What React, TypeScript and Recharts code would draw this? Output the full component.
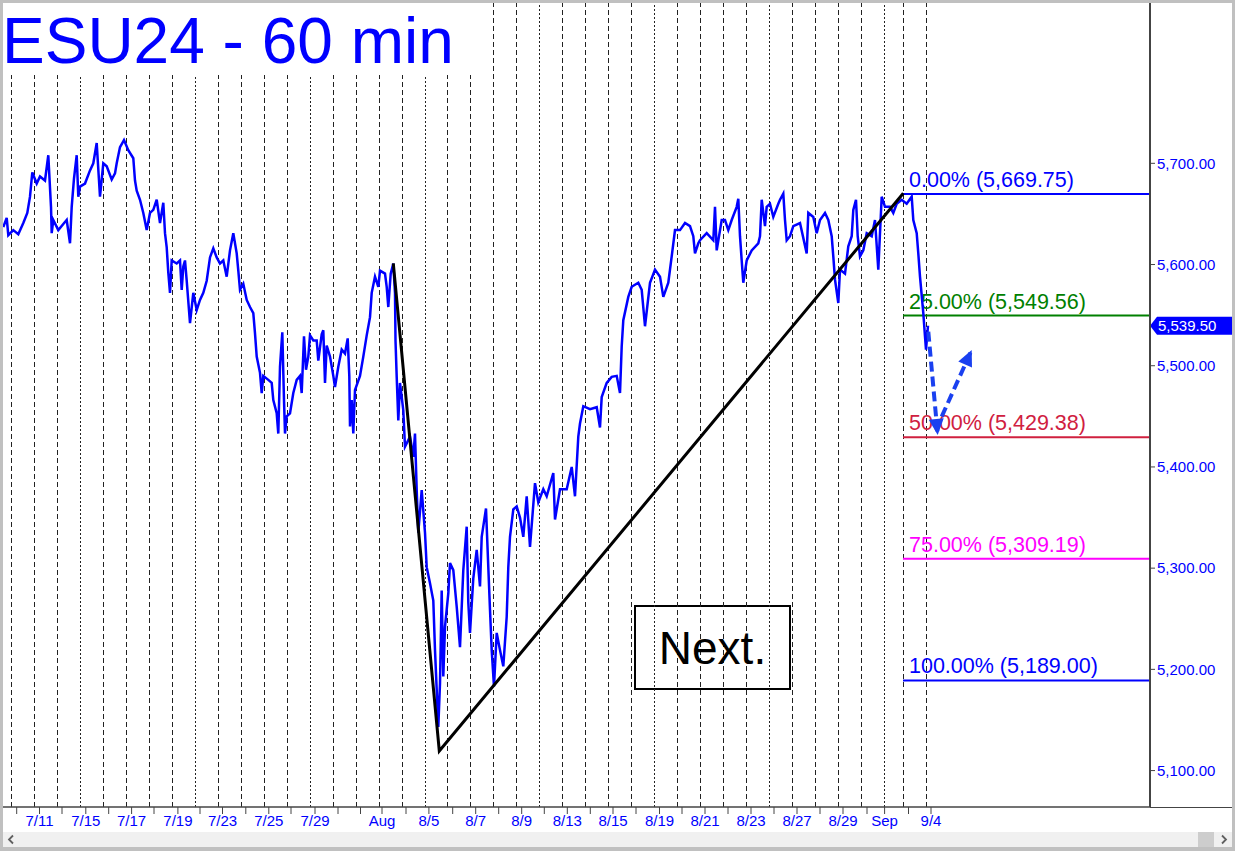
import React from "react";
import {
  ComposedChart,
  Line,
  XAxis,
  YAxis,
  ReferenceLine,
  ReferenceArea,
} from "recharts";

// hourly bar index (1 bar = 1 px) and price
const priceBars = [
  0.3, 3.7, 5.3, 10.3, 15.3, 20.3, 24.3, 27, 29.3, 33.7,
  37, 42, 45.3, 48, 48.7, 50.3, 55.3, 60.3, 63.7, 67,
  68.7, 71, 73.7, 75.3, 77, 82, 87, 90.3, 93.7, 97,
  100.3, 103.7, 108.7, 112, 113.7, 117, 121, 125.3, 130.3, 132,
  133.7, 137, 140.3, 143.7, 147, 150.3, 153.7, 157, 160.3, 162,
  163.7, 165.3, 167, 168.7, 173.7, 177, 178.7, 180.3, 182, 183.7,
  187, 190.3, 193.7, 197, 200.3, 203.7, 207, 210.3, 213.7, 217,
  220.3, 223.7, 227, 230.3, 233.7, 235.3, 237, 240.3, 243.7, 247,
  250.3, 252, 253.7, 257, 258.7, 260.3, 265.3, 268.7, 270.3, 273.7,
  275.3, 277, 279.3, 281, 282, 283.7, 287, 290.3, 293.7, 297,
  298.7, 301, 303, 305.3, 307, 310.3, 313.7, 315.3, 318.7, 320.3,
  322, 323.7, 327, 330.3, 332, 335.3, 338.7, 342, 344.7, 346.3,
  347, 348.7, 350.3, 352, 357, 360.3, 363.7, 367, 368.7, 372,
  375.3, 377, 382, 383.7, 385.3, 387.7, 390.3,
  392, 392.5, 393.7, 395.3, 397, 400.3, 402, 407, 410.3, 412,
  413.7, 415.3, 418.7, 422, 423.7, 427, 430.3, 432, 435.3, 437,
  438.7, 440.3, 442, 445.3, 447, 450.3, 453.7, 457, 460.3, 463.7,
  465.3, 467, 470.3, 473.7, 477, 478.7, 483, 485.3, 487, 488.7,
  491, 493.7, 497, 500.3, 503.7, 505.3, 507, 510.3, 513.7, 517,
  520.3, 523.7, 527, 532, 535.3, 540.3, 543.7, 550.3, 552, 557,
  563.7, 568.7, 572, 575.3, 577, 580.3, 587, 593.7, 597, 598.7,
  603.7, 608.7, 613.7, 617, 618.7, 620.3, 625.3, 628.7, 635.3, 638.7,
  642, 647, 652, 657, 660.3, 665.3, 668.7, 672,
  677, 682, 687, 690.3, 692, 695.3, 697, 703.7, 710.3, 712,
  713.7, 718.7, 722, 725.3, 728.7, 733.7, 735.3, 737, 738.7, 740.3,
  743.7, 748.7, 755.3, 757, 758.7, 762, 763.7, 767, 770.3, 775.3,
  777, 780.3, 782, 783.7, 787, 790.3, 797, 803.7, 805.3, 810.3,
  813.7, 817, 822, 825.3, 828.7, 830.3, 832, 835.3, 837, 842,
  845.3, 848.7, 850.3, 853, 854.7, 857, 860.3, 863.7, 868.7, 872,
  875.3, 878.7, 882, 887, 890.3, 893.7, 898.7, 903.7, 908.7, 910.3,
  913.7, 915.3, 917, 920.3, 922, 923, 925,
];

const priceValues = [
  5637, 5646, 5629, 5634, 5630, 5641, 5651, 5667, 5691, 5680,
  5687, 5683, 5708, 5657, 5631, 5644, 5634, 5640, 5644, 5621,
  5657, 5685, 5708, 5667, 5677, 5680, 5693, 5700, 5720, 5667,
  5700, 5697, 5684, 5690, 5700, 5716, 5723, 5713, 5705, 5683,
  5673, 5664, 5651, 5634, 5651, 5654, 5664, 5641, 5661, 5631,
  5617, 5592, 5572, 5604, 5601, 5604, 5575, 5598, 5604, 5584,
  5542, 5572, 5555, 5565, 5572, 5584, 5607, 5616, 5607, 5601,
  5604, 5588, 5614, 5631, 5611, 5594, 5575, 5581, 5565, 5558,
  5552, 5532, 5509, 5493, 5473, 5490, 5486, 5483, 5466, 5453,
  5433, 5499, 5533, 5466, 5433, 5450, 5453, 5473, 5486, 5490,
  5473, 5529, 5496, 5509, 5530, 5525, 5525, 5505, 5531, 5535,
  5483, 5520, 5509, 5490, 5479, 5499, 5516, 5512, 5527, 5490,
  5440, 5466, 5433, 5476, 5490, 5509, 5530, 5548, 5572, 5588,
  5578, 5594, 5591, 5578, 5558, 5591, 5601,
  5572, 5525, 5489, 5446, 5483, 5456, 5420, 5430, 5410, 5433,
  5377, 5335, 5377, 5335, 5301, 5285, 5268, 5219, 5143, 5186,
  5278, 5193, 5242, 5275, 5305, 5298, 5262, 5222, 5298, 5341,
  5266, 5236, 5290, 5318, 5282, 5331, 5359, 5301, 5259, 5219,
  5183, 5236, 5219, 5203, 5252, 5301, 5331, 5358, 5361, 5350,
  5331, 5371, 5321, 5384, 5365, 5378, 5371, 5394, 5348, 5378,
  5378, 5400, 5371, 5430, 5443, 5460, 5457, 5459, 5439, 5469,
  5483, 5489, 5490, 5473, 5519, 5545, 5568, 5578, 5582, 5575,
  5539, 5582, 5595, 5588, 5568, 5582, 5608, 5634,
  5634, 5641, 5638, 5628, 5611, 5621, 5624, 5631, 5624, 5657,
  5614, 5644, 5644, 5634, 5644, 5657, 5665, 5628, 5604, 5582,
  5604, 5614, 5621, 5628, 5664, 5638, 5657, 5660, 5647, 5660,
  5664, 5670, 5644, 5624, 5628, 5638, 5641, 5611, 5651, 5647,
  5631, 5644, 5651, 5644, 5628, 5608, 5585, 5562, 5595, 5591,
  5618, 5628, 5654, 5664, 5628, 5608, 5614, 5631, 5628, 5644,
  5595, 5667, 5657, 5657, 5651, 5660, 5664, 5660, 5667, 5644,
  5631, 5611, 5588, 5552, 5529, 5516, 5539.5,
];

const trendBars = [390.3, 436.3, 900.3];
const trendValues = [5601.2, 5119.4, 5670.5];

const arrowDownBars = [925.3, 934.7];
const arrowDownValues = [5533.6, 5431.6];
const arrowUpBars = [938.7, 968.7];
const arrowUpValues = [5449.7, 5515.6];

const fibLevels = [5669.75, 5549.56, 5429.38, 5309.19, 5189.0];
const fibNames = ["0.00%", "25.00%", "50.00%", "75.00%", "100.00%"];
const fibColors = ["#0000ff", "#008000", "#d0203f", "#ff00ff", "#0000ff"];
const fibStart = 900;

const lastPrice = 5539.5;

const yTicks = [5100, 5200, 5300, 5400, 5500, 5600, 5700];

const dayTicks = [
  13.7, 36.5, 59, 82.8, 105.7, 128.6, 151, 174.9, 197, 219.5,
  242.8, 265.8, 288, 312, 335, 357.5, 379, 403, 425.9, 449.7,
  472.7, 495.7, 518.7, 541.3, 564.3, 587.3, 610, 633, 656.5, 679,
  702, 725, 748, 771, 794, 817, 840, 864, 881.6, 905.5, 928,
];
const dayLabels = [
  "", "7/11", "", "7/15", "", "7/17", "", "7/19", "", "7/23",
  "", "7/25", "", "7/29", "", "", "Aug", "", "8/5", "",
  "8/7", "", "8/9", "", "8/13", "", "8/15", "", "8/19", "",
  "8/21", "", "8/23", "", "8/27", "", "8/29", "", "Sep", "", "9/4",
];

const sessionLines = [
  8.5, 31.5, 54.5, 77.5, 100.5, 123.5, 146.5, 169.5, 192.5, 215.5,
  238.5, 261.5, 284.5, 307.5, 330.5, 353.5, 376.5, 399.5, 422.5, 444.5,
  467.5, 490.5, 513.5, 536.5, 559.5, 582.5, 605.5, 628.5, 651.5, 674.5,
  697.5, 720.5, 743.5, 766.5, 789.5, 812.5, 835.5, 858.5, 881.5, 900.5, 923.5,
];
const weekStartLines = [77.5, 192.5, 307.5, 422.5, 536.5, 651.5, 766.5, 881.5];

const FONT = "Arial, 'Liberation Sans', sans-serif";
const ARROW = "#1a40f0";

const fmt = (v: number) =>
  v.toLocaleString("en-US", { minimumFractionDigits: 2, maximumFractionDigits: 2 });

const arrowHead = (angle: number) => (props: any) => {
  const { cx, cy, index } = props;
  if (index !== 1 || cx == null) return <g key={`n${index}`} />;
  return (
    <polygon
      key={`h${index}`}
      points="0,0 -16,-7.5 -16,7.5"
      fill={ARROW}
      transform={`translate(${cx},${cy}) rotate(${angle})`}
    />
  );
};

export default function App() {
  const priceData = priceBars.map((b, i) => ({ b, p: priceValues[i] }));
  const trendData = trendBars.map((b, i) => ({ b, p: trendValues[i] }));
  const downData = arrowDownBars.map((b, i) => ({ b, p: arrowDownValues[i] }));
  const upData = arrowUpBars.map((b, i) => ({ b, p: arrowUpValues[i] }));

  const labelFor = (v: number) => dayLabels[dayTicks.indexOf(v)] ?? "";

  return (
    <div
      style={{
        position: "absolute",
        left: 0,
        top: 0,
        width: 1235,
        height: 851,
        background: "#fff",
        overflow: "hidden",
        fontFamily: FONT,
      }}
    >
      <ComposedChart
        width={1235}
        height={851}
        data={priceData}
        margin={{ top: 3, right: 3, bottom: 24, left: 3 }}
      >
        <XAxis
          dataKey="b"
          type="number"
          domain={[0, 1147]}
          allowDataOverflow
          ticks={dayTicks}
          interval={0}
          tickFormatter={labelFor}
          tick={{ fill: "#0000ff", fontSize: 15, fontFamily: FONT }}
          tickLine={{ stroke: "#444" }}
          tickSize={7}
          tickMargin={1}
          axisLine={{ stroke: "#444", strokeWidth: 1.5 }}
          height={20}
        />
        <YAxis
          orientation="right"
          type="number"
          domain={[5064, 5858.4]}
          allowDataOverflow
          ticks={yTicks}
          interval={0}
          tickFormatter={fmt}
          width={82}
          tick={{ fill: "#0000ff", fontSize: 15, fontFamily: FONT }}
          tickLine={{ stroke: "#444" }}
          tickSize={5}
          tickMargin={2}
          axisLine={{ stroke: "#444", strokeWidth: 2 }}
        />

        {sessionLines.map((g) => (
          <ReferenceLine
            key={`g${g}`}
            x={g}
            stroke="#222"
            strokeWidth={1}
            strokeDasharray={weekStartLines.includes(g) ? "2 2" : "5 3"}
          />
        ))}

        <ReferenceArea
          x1={632}
          x2={787}
          y1={5180.7}
          y2={5262.7}
          fill="#fff"
          fillOpacity={1}
          stroke="#000"
          strokeWidth={2}
          label={{ value: "Next.", position: "center", fontSize: 46, fill: "#000", fontFamily: FONT }}
        />

        {fibLevels.map((lv, i) => (
          <ReferenceLine
            key={`f${i}`}
            segment={[
              { x: fibStart, y: lv },
              { x: 1147, y: lv },
            ]}
            stroke={fibColors[i]}
            strokeWidth={2}
            label={(props: any) => (
              <text
                x={props.viewBox.x + 6}
                y={props.viewBox.y - 7}
                fill={fibColors[i]}
                fontSize={21.5}
                fontFamily={FONT}
              >
                {`${fibNames[i]} (${fmt(lv)})`}
              </text>
            )}
          />
        ))}

        <Line
          dataKey="p"
          type="linear"
          stroke="#0000ff"
          strokeWidth={2.5}
          dot={false}
          isAnimationActive={false}
        />
        <Line
          data={trendData}
          dataKey="p"
          type="linear"
          stroke="#000"
          strokeWidth={3}
          dot={false}
          isAnimationActive={false}
        />
        <Line
          data={downData}
          dataKey="p"
          type="linear"
          stroke={ARROW}
          strokeWidth={4}
          strokeDasharray="10 5"
          dot={arrowHead(84.8)}
          isAnimationActive={false}
        />
        <Line
          data={upData}
          dataKey="p"
          type="linear"
          stroke={ARROW}
          strokeWidth={4}
          strokeDasharray="10 5"
          dot={arrowHead(-65.8)}
          isAnimationActive={false}
        />

        <ReferenceLine
          y={lastPrice}
          stroke="none"
          label={(props: any) => {
            const x = props.viewBox.x + props.viewBox.width;
            const y = props.viewBox.y;
            return (
              <g>
                <polygon
                  points={`${x},${y} ${x + 7},${y - 9} ${x + 82},${y - 9} ${x + 82},${y + 9} ${x + 7},${y + 9}`}
                  fill="#0000ff"
                />
                <text x={x + 8} y={y + 5} fill="#fff" fontSize={15} fontFamily={FONT}>
                  {fmt(lastPrice)}
                </text>
              </g>
            );
          }}
        />
      </ComposedChart>

      {/* title block */}
      <svg
        width={480}
        height={84}
        style={{ position: "absolute", left: 3, top: 3, overflow: "visible" }}
      >
        <rect x={0} y={0} width={477} height={72} fill="#fff" />
        <text x={-1} y={60} fontSize={64} fill="#0000ff" fontFamily={FONT}>
          ESU24 - 60 min
        </text>
      </svg>

      {/* axis line running past the price scale */}
      <div style={{ position: "absolute", left: 1150, top: 806.5, width: 82, height: 1.5, background: "#444" }} />

      {/* scrollbar */}
      <div style={{ position: "absolute", left: 3, top: 832, width: 1229, height: 15, background: "#f0f0f0" }}>
        <svg width={1229} height={15} style={{ position: "absolute", left: 0, top: 0 }}>
          <polyline points="10,3.5 6,7.5 10,11.5" fill="none" stroke="#606060" strokeWidth={1.8} />
          <rect x={1195} y={0} width={16} height={15} fill="#cdcdcd" />
          <polyline points="1219,3.5 1223,7.5 1219,11.5" fill="none" stroke="#606060" strokeWidth={1.8} />
        </svg>
      </div>

      {/* window frame */}
      <div style={{ position: "absolute", left: 0, top: 0, width: 1235, height: 3, background: "#c0c0c0" }} />
      <div style={{ position: "absolute", left: 0, top: 0, width: 3, height: 851, background: "#c0c0c0" }} />
      <div style={{ position: "absolute", left: 1232, top: 0, width: 3, height: 851, background: "#c0c0c0" }} />
      <div style={{ position: "absolute", left: 0, top: 847, width: 1235, height: 4, background: "#c0c0c0" }} />
    </div>
  );
}
